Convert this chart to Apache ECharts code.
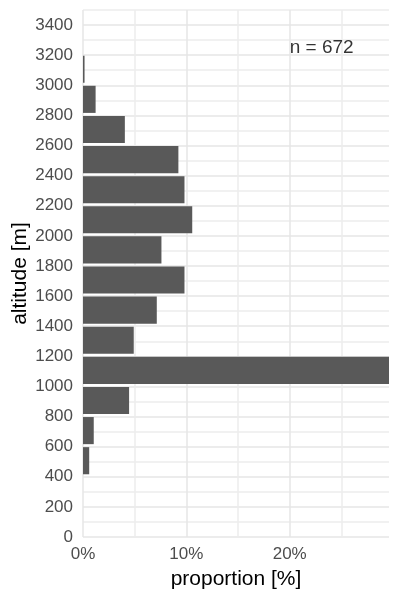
<!DOCTYPE html>
<html>
<head>
<meta charset="utf-8">
<script src="https://cdn.jsdelivr.net/npm/echarts@6/dist/echarts.min.js"></script>
<style>html,body{margin:0;padding:0;background:#fff}#c{width:400px;height:600px}</style>
</head>
<body>
<div id="c"></div>
<script>
// altitude bins [m]
const binLow  = [400, 600, 800, 1000, 1200, 1400, 1600, 1800, 2000, 2200, 2400, 2600, 2800, 3000];
const binHigh = [600, 800, 1000, 1200, 1400, 1600, 1800, 2000, 2200, 2400, 2600, 2800, 3000, 3200];
// proportion of observations in each bin [%]
const proportion = [0.60, 1.04, 4.46, 29.61, 4.91, 7.14, 9.82, 7.59, 10.57, 9.82, 9.23, 4.05, 1.22, 0.15];
const xTickLabels = [0, 10, 20];
const yTickLabels = [0, 200, 400, 600, 800, 1000, 1200, 1400, 1600, 1800, 2000, 2200, 2400, 2600, 2800, 3000, 3200, 3400];
const annotation = {x: 20, y: 3250, text: 'n = 672'};

const font = '"Liberation Sans", Arial, Helvetica, sans-serif';
const data = binLow.map((lo, i) => [lo, binHigh[i], proportion[i]]);

const chart = echarts.init(document.getElementById('c'), null, {renderer: 'canvas'});
chart.setOption({
  animation: false,
  backgroundColor: '#ffffff',
  grid: {left: 83, right: 11, top: 10, bottom: 63, containLabel: false, outerBoundsMode: 'none'},
  xAxis: {
    type: 'value', min: 0, max: 29.61, interval: 5,
    name: 'proportion [%]', nameLocation: 'middle', nameGap: 32,
    nameTextStyle: {fontFamily: font, fontSize: 21, color: '#000'},
    axisLine: {show: false}, axisTick: {show: false},
    axisLabel: {
      fontFamily: font, fontSize: 17, color: '#4D4D4D', margin: 9,
      showMaxLabel: false,
      formatter: v => xTickLabels.indexOf(v) >= 0 ? v + '%' : ''
    },
    splitLine: {show: true, showMaxLine: false, lineStyle: {color: ['#E6E6E6', '#ECECEC'], width: 1.5}}
  },
  yAxis: {
    type: 'value', min: 0, max: 3500, interval: 100,
    name: 'altitude [m]', nameLocation: 'middle', nameGap: 52, nameRotate: 90,
    nameMoveOverlap: false,
    nameTextStyle: {fontFamily: font, fontSize: 21, color: '#000'},
    axisLine: {show: false}, axisTick: {show: false},
    axisLabel: {
      fontFamily: font, fontSize: 17, color: '#4D4D4D', margin: 10,
      formatter: v => yTickLabels.indexOf(v) >= 0 ? String(v) : ''
    },
    splitLine: {show: true, lineStyle: {color: ['#E6E6E6', '#ECECEC'], width: 1.5}}
  },
  series: [
    {
      type: 'custom',
      data: data,
      encode: {x: 2, y: [0, 1]},
      renderItem: function (params, api) {
        const lo = api.value(0), hi = api.value(1), v = api.value(2);
        const pTop = api.coord([0, hi]);
        const pBot = api.coord([v, lo]);
        return {
          type: 'rect',
          shape: {x: pTop[0], y: pTop[1] + 0.5, width: pBot[0] - pTop[0], height: pBot[1] - pTop[1] - 3},
          style: {fill: '#595959'}
        };
      },
      z: 3
    },
    {
      type: 'scatter',
      data: [[annotation.x, annotation.y]],
      symbolSize: 0,
      silent: true,
      label: {
        show: true, position: 'right', distance: 0,
        formatter: annotation.text,
        fontFamily: font, fontSize: 19, color: '#000'
      },
      z: 4
    }
  ]
});
</script>
</body>
</html>
